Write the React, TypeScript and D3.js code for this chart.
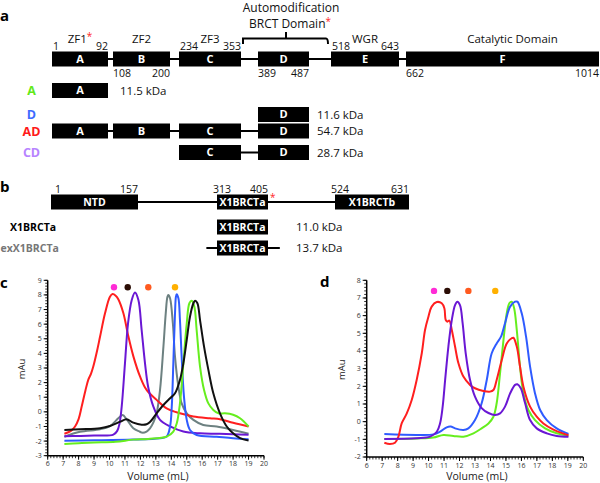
import React from 'react';
import * as d3 from 'd3';

// ---------------- DATA ----------------
// Panel a: PARP1 domains
const domainLetters = ['A', 'B', 'C', 'D', 'E', 'F'];
const domainStarts = [1, 108, 234, 389, 518, 662];
const domainEnds = [92, 200, 353, 487, 643, 1014];
const regionNames = ['ZF1', 'ZF2', 'ZF3', '', 'WGR', 'Catalytic Domain'];
const regionStarred = [true, false, false, false, false, false];
const constructNames = ['A', 'D', 'AD', 'CD'];
const constructDomains = [['A'], ['D'], ['A', 'B', 'C', 'D'], ['C', 'D']];
const constructMasses = ['11.5 kDa', '11.6 kDa', '54.7 kDa', '28.7 kDa'];

// Panel b: XRCC1 domains
const xDomainNames = ['NTD', 'X1BRCTa', 'X1BRCTb'];
const xDomainStarts = [1, 313, 524];
const xDomainEnds = [157, 405, 631];
const xConstructNames = ['X1BRCTa', 'exX1BRCTa'];
const xConstructCore = [[313, 405], [313, 405]];
const xConstructSpan = [[313, 405], [292, 426]];
const xConstructMasses = ['11.0 kDa', '13.7 kDa'];

// Panel c chromatograms (Volume mL, mAu)
const cGray: [number, number][] = [[7.08,-1.7],[8.09,-1.36],[9.39,-1.19],[10.03,-0.97],[10.57,-0.44],[10.85,-0.21],[11.1,-0.5],[11.54,-1.12],[11.97,-1.36],[12.1,-1.42],[12.4,-1.35],[12.62,-1.13],[12.85,-0.7],[13.05,-0.1],[13.27,1.5],[13.49,4.46],[13.64,6.74],[13.75,7.88],[13.81,8.0],[13.92,7.77],[14.1,6.06],[14.24,3.78],[14.46,1.72],[14.67,0.58],[15.0,-0.1],[15.43,-0.55],[16.07,-0.9],[16.94,-1.0],[18.0,-1.24],[19.0,-1.5]];
const cRed: [number, number][] = [[7.08,-1.5],[7.5,-1.3],[7.77,-1.0],[8.0,-0.5],[8.2,0.36],[8.45,1.5],[8.63,2.2],[8.8,2.6],[8.95,3.1],[9.2,4.2],[9.39,5.15],[9.71,6.74],[10.03,7.88],[10.2,8.06],[10.4,7.95],[10.57,7.7],[10.9,6.74],[11.2,5.26],[11.55,3.78],[11.98,2.41],[12.4,1.5],[13.05,0.82],[13.7,0.24],[14.56,-0.1],[15.43,-0.32],[16.5,-0.44],[17.15,-0.5],[18.0,-0.75],[19.0,-1.0]];
const cPurple: [number, number][] = [[7.08,-1.67],[8,-1.65],[9,-1.62],[10.25,-1.56],[10.5,-1.3],[10.65,-0.8],[10.79,0.36],[11.0,3.3],[11.2,6.05],[11.44,7.65],[11.65,8.16],[11.87,7.65],[12.08,5.6],[12.3,3.3],[12.5,1.72],[12.84,0.36],[13.27,-0.55],[13.92,-1.0],[14.78,-1.35],[15.86,-1.47],[16.94,-1.5],[18.0,-1.53],[19.0,-1.57]];
const cBlue: [number, number][] = [[7.08,-1.97],[9,-1.95],[11.54,-1.9],[13.27,-1.8],[13.7,-1.69],[13.92,-1.0],[14.03,0.36],[14.13,3.3],[14.24,6.74],[14.3,7.88],[14.35,8.04],[14.46,7.77],[14.56,6.28],[14.67,3.78],[14.82,1.04],[15.0,-0.55],[15.21,-1.24],[15.64,-1.58],[16.94,-1.7],[18.0,-1.8],[19.0,-1.87]];
const cGreen: [number, number][] = [[7.08,-2.2],[8,-2.15],[9,-2.1],[10.4,-2.05],[11.54,-1.9],[12.5,-1.85],[13.7,-1.7],[14.13,-1.35],[14.35,-0.8],[14.56,0.58],[14.78,3.3],[15.0,6.06],[15.17,7.43],[15.32,7.6],[15.49,7.2],[15.64,5.6],[15.86,3.1],[16.12,1.5],[16.4,0.58],[16.72,0.13],[17.05,-0.1],[17.48,-0.1],[18.0,-0.2],[18.45,-0.44],[19.0,-1.0]];
const cBlack: [number, number][] = [[7.08,-1.24],[8.09,-1.19],[9.39,-1.12],[10.03,-0.97],[10.7,-0.67],[11.1,-0.5],[11.54,-0.74],[12.08,-0.88],[12.4,-0.85],[12.62,-0.7],[13.05,-0.1],[13.49,0.47],[13.92,0.93],[14.24,1.27],[14.56,2.18],[14.78,3.32],[15.0,4.92],[15.21,6.51],[15.43,7.43],[15.54,7.6],[15.69,7.43],[15.86,6.28],[16.12,4.46],[16.4,2.87],[16.72,1.27],[17.15,-0.1],[17.59,-1.0],[18.0,-1.47],[18.45,-1.8],[19.0,-1.96]];
const cMarkerVolumes = [10.29, 11.18, 12.51, 14.24];
const cMarkerLevel = 8.52;

// Panel d chromatograms
const dGreen: [number, number][] = [[7.14,-0.98],[9.23,-0.95],[10.3,-0.9],[10.96,-0.75],[11.6,-0.81],[12.25,-0.85],[12.9,-0.66],[13.43,-0.38],[13.87,-0.1],[14.19,0.28],[14.4,1.04],[14.62,2.74],[14.84,4.62],[15.05,6.13],[15.22,6.7],[15.37,6.79],[15.53,6.42],[15.7,5.19],[15.91,3.11],[16.13,1.6],[16.45,0.66],[16.88,0.09],[17.53,-0.38],[18.28,-0.66],[19.04,-0.8]];
const dBlue: [number, number][] = [[7.14,-0.7],[9.23,-0.75],[10.31,-0.72],[10.74,-0.57],[11.17,-0.32],[11.43,-0.28],[11.71,-0.38],[12.25,-0.47],[12.57,-0.38],[13.0,0.09],[13.43,1.04],[13.76,2.36],[14.08,3.87],[14.4,4.43],[14.68,4.81],[14.94,5.57],[15.27,6.51],[15.59,6.79],[15.74,6.79],[16.02,6.13],[16.3,4.81],[16.56,3.11],[16.88,1.6],[17.21,0.66],[17.64,0.09],[18.28,-0.38],[19.04,-0.7]];
const dRed: [number, number][] = [[7.14,-1.19],[7.5,-1.26],[7.83,-1.19],[8.05,-0.85],[8.26,-0.1],[8.59,0.47],[8.91,1.23],[9.23,2.36],[9.56,3.87],[9.77,5.19],[9.99,5.94],[10.2,6.51],[10.53,6.77],[10.85,6.7],[11.02,6.42],[11.11,5.75],[11.22,5.66],[11.34,5.72],[11.5,5.19],[11.71,4.25],[11.93,3.3],[12.25,2.55],[12.68,2.08],[13.0,1.89],[13.54,1.74],[13.97,1.7],[14.19,1.79],[14.4,2.36],[14.73,3.49],[15.05,4.43],[15.37,4.72],[15.48,4.75],[15.7,4.25],[15.91,3.11],[16.13,1.98],[16.56,0.85],[16.99,0.28],[17.42,-0.1],[18.07,-0.45],[18.72,-0.68],[19.04,-0.77]];
const dPurple: [number, number][] = [[7.14,-0.98],[9.23,-0.94],[10.1,-0.85],[10.53,-0.57],[10.74,-0.1],[10.91,0.85],[11.07,2.36],[11.28,4.25],[11.5,5.75],[11.71,6.6],[11.86,6.79],[12.03,6.6],[12.2,5.57],[12.4,3.87],[12.68,2.36],[13.0,1.42],[13.43,0.77],[13.87,0.49],[14.3,0.38],[14.62,0.47],[14.94,0.85],[15.27,1.6],[15.59,2.08],[15.74,2.12],[15.96,1.89],[16.24,1.04],[16.56,0.09],[16.99,-0.38],[17.64,-0.66],[18.28,-0.81],[19.04,-0.85]];
const dMarkerVolumes = [10.35, 11.21, 12.57, 14.31];
const dMarkerLevel = 7.4;

const volumeDomain = [6, 20];
const cMauDomain = [-3, 9];
const dMauDomain = [-2, 8];

// ---------------- STYLE ----------------
const FONT = "'Open Sans', 'DejaVu Sans', sans-serif";
const RED = '#ff1f1f';
const PURPLE = '#6a17d4';
const GRAY = '#6d8181';
const BLUE = '#2f5bff';
const GREEN = '#66ee1e';
const BLACK = '#111111';
const constructColors = ['#62e81a', '#3d6bff', '#ff1a1a', '#b784ff'];
const xConstructColors = ['#000000', '#777777'];
const markerColors = ['#ff2bd6', '#2b0d05', '#ff5a1f', '#ffb000'];
const cColors = [GRAY, RED, PURPLE, BLUE, GREEN, BLACK];
const dColors = [GREEN, BLUE, RED, PURPLE];

// layout scales (residue -> x)
const aScale = d3.scaleLinear()
  .domain(d3.sort(domainStarts.concat(domainEnds)))
  .range([52, 108, 113, 170, 179, 241, 258, 309, 331, 399, 406, 599]);
const bScale = d3.scaleLinear()
  .domain(d3.sort(xDomainStarts.concat(xDomainEnds)))
  .range([51, 138, 217, 268, 335, 409]);

const BOX_H = 15;
const aMainY = 59;
const aRowY = [90.5, 114.5, 131, 152.5];
const bMainY = 202;
const bRowY = [227, 248];

function Box({ x0, x1, cy, label, fs = 11 }: any) {
  return (
    <g>
      <rect x={x0} y={cy - BOX_H / 2} width={x1 - x0} height={BOX_H} fill="#000" />
      <text x={(x0 + x1) / 2} y={cy} dy="0.36em" textAnchor="middle" fill="#fff"
        fontWeight="bold" fontSize={fs} fontFamily={FONT}>{label}</text>
    </g>
  );
}

function PanelA() {
  const idx = (l: string) => domainLetters.indexOf(l);
  const above = [true, false, true, false, true, false];
  return (
    <g>
      <text x={0} y={21} fontSize={15} fontWeight="bold" fontFamily={FONT}>a</text>
      <line x1={aScale(domainStarts[0])} x2={aScale(domainEnds[domainEnds.length - 1])} y1={aMainY} y2={aMainY} stroke="#000" strokeWidth={2} />
      {domainLetters.map((l, i) => (
        <Box key={l} x0={aScale(domainStarts[i])} x1={aScale(domainEnds[i])} cy={aMainY} label={l} />
      ))}
      {domainLetters.map((l, i) => {
        const up = above[i];
        const y = up ? aMainY - BOX_H / 2 - 1.5 : aMainY + BOX_H / 2 + 10;
        return (
          <g key={'n' + l} fontSize={10.5} fontFamily={FONT} fill="#111">
            <text x={aScale(domainStarts[i]) + (up ? 1 : 0)} y={y} textAnchor="start">{domainStarts[i]}</text>
            <text x={aScale(domainEnds[i])} y={y} textAnchor="end">{domainEnds[i]}</text>
          </g>
        );
      })}
      {regionNames.map((r, i) => r ? (
        <text key={'r' + i} x={(aScale(domainStarts[i]) + aScale(domainEnds[i])) / 2 + (i === 5 ? 10 : 0)} y={43}
          textAnchor="middle" fontSize={11.5} fontFamily={FONT} fill="#111">
          {r}{regionStarred[i] ? <tspan fill={RED} dy={-3} fontSize={10}>*</tspan> : null}
        </text>
      ) : null)}
      <path d={`M${aScale(353) + 2},44 L${aScale(353) + 2},38.5 L${aScale(518) - 5},38.5 Q${aScale(518) - 3},38.5 ${aScale(518) - 3},44 M${(aScale(353) + aScale(518)) / 2},38.5 L${(aScale(353) + aScale(518)) / 2},32`}
        fill="none" stroke="#000" strokeWidth={2} />
      <text x={291} y={11.5} textAnchor="middle" fontSize={12} fontFamily={FONT} fill="#111">Automodification</text>
      <text x={290} y={28} textAnchor="middle" fontSize={12} fontFamily={FONT} fill="#111">BRCT Domain<tspan fill={RED} dy={-3} fontSize={10}>*</tspan></text>
      {constructNames.map((name, r) => {
        const doms = constructDomains[r].map(idx);
        const cy = aRowY[r];
        const first = doms[0], last = doms[doms.length - 1];
        return (
          <g key={name}>
            <text x={31.5} y={cy} dy="0.36em" textAnchor="middle" fontWeight="bold" fontSize={12.5} fontFamily={FONT} fill={constructColors[r]}>{name}</text>
            {doms.length > 1 && <line x1={aScale(domainStarts[first])} x2={aScale(domainEnds[last])} y1={cy} y2={cy} stroke="#000" strokeWidth={2} />}
            {doms.map(d => (
              <Box key={d} x0={aScale(domainStarts[d])} x1={aScale(domainEnds[d])} cy={cy} label={domainLetters[d]} />
            ))}
            <text x={doms.length === 1 && domainLetters[first] === 'A' ? 120 : 317} y={cy} dy="0.36em" fontSize={11.5} fontFamily={FONT} fill="#111">{constructMasses[r]}</text>
          </g>
        );
      })}
    </g>
  );
}

function PanelB() {
  return (
    <g>
      <text x={0} y={191.5} fontSize={15} fontWeight="bold" fontFamily={FONT}>b</text>
      <line x1={bScale(xDomainStarts[0])} x2={bScale(xDomainEnds[2])} y1={bMainY} y2={bMainY} stroke="#000" strokeWidth={2} />
      {xDomainNames.map((n, i) => (
        <Box key={n} x0={bScale(xDomainStarts[i])} x1={bScale(xDomainEnds[i])} cy={bMainY} label={n} fs={10.5} />
      ))}
      {xDomainNames.map((n, i) => (
        <g key={'n' + n} fontSize={10.5} fontFamily={FONT} fill="#111">
          <text x={bScale(xDomainStarts[i]) + (i === 0 ? 4 : -4)} y={bMainY - BOX_H / 2 - 1.5} textAnchor="start">{xDomainStarts[i]}</text>
          <text x={bScale(xDomainEnds[i])} y={bMainY - BOX_H / 2 - 1.5} textAnchor="end">{xDomainEnds[i]}</text>
        </g>
      ))}
      <text x={bScale(405) + 2} y={bMainY - 1} fontSize={10} fill={RED} fontFamily={FONT}>*</text>
      {xConstructNames.map((name, r) => {
        const cy = bRowY[r];
        const [s0, s1] = xConstructSpan[r];
        const [c0, c1] = xConstructCore[r];
        return (
          <g key={name}>
            <text x={r === 0 ? 10 : 0.5} y={cy} dy="0.36em" fontWeight="bold" fontSize={10.5} fontFamily={FONT} fill={xConstructColors[r]}>{name}</text>
            {(s0 !== c0 || s1 !== c1) && <line x1={bScale(s0)} x2={bScale(s1)} y1={cy} y2={cy} stroke="#000" strokeWidth={2} />}
            <Box x0={bScale(c0)} x1={bScale(c1)} cy={cy} label="X1BRCTa" fs={10.5} />
            <text x={296} y={cy} dy="0.36em" fontSize={11.5} fontFamily={FONT} fill="#111">{xConstructMasses[r]}</text>
          </g>
        );
      })}
    </g>
  );
}

function Chromatogram({ series, colors, xRange, yDomain, yRange, markers, markerLevel, letter, letterPos, yTitleX }: any) {
  const x = d3.scaleLinear().domain(volumeDomain).range(xRange);
  const y = d3.scaleLinear().domain(yDomain).range(yRange);
  const line = d3.line<[number, number]>().x(d => x(d[0])).y(d => y(d[1])).curve(d3.curveCatmullRom.alpha(0.5));
  const xMajor = d3.range(volumeDomain[0], volumeDomain[1] + 0.001, 1);
  const xMinor = d3.range(volumeDomain[0], volumeDomain[1] + 0.001, 0.2);
  const yMajor = d3.range(yDomain[0], yDomain[1] + 0.001, 1);
  const yMinor = d3.range(yDomain[0], yDomain[1] + 0.001, 0.2);
  const x0 = xRange[0], y0 = yRange[0];
  return (
    <g fontFamily={FONT}>
      <text x={letterPos[0]} y={letterPos[1]} fontSize={15} fontWeight="bold">{letter}</text>
      {series.map((s: [number, number][], i: number) => (
        <path key={i} d={line(s) || ''} fill="none" stroke={colors[i]} strokeWidth={2} strokeLinejoin="round" />
      ))}
      {markers.map((v: number, i: number) => (
        <circle key={'m' + i} cx={x(v)} cy={y(markerLevel)} r={3.2} fill={markerColors[i]} />
      ))}
      <line x1={x0} x2={x0} y1={yRange[1]} y2={y0} stroke="#000" strokeWidth={1.5} />
      <line x1={x0} x2={xRange[1]} y1={y0} y2={y0} stroke="#000" strokeWidth={1.5} />
      {yMinor.map((v, i) => <line key={'ym' + i} x1={x0 - 2.5} x2={x0} y1={y(v)} y2={y(v)} stroke="#000" strokeWidth={0.8} />)}
      {xMinor.map((v, i) => <line key={'xm' + i} x1={x(v)} x2={x(v)} y1={y0} y2={y0 + 2.5} stroke="#000" strokeWidth={0.8} />)}
      {yMajor.map((v, i) => (
        <g key={'yM' + i}>
          <line x1={x0 - 4} x2={x0} y1={y(v)} y2={y(v)} stroke="#000" strokeWidth={1} />
          <text x={x0 - 6} y={y(v)} dy="0.35em" textAnchor="end" fontSize={7} fill="#333">{v}</text>
        </g>
      ))}
      {xMajor.map((v, i) => (
        <g key={'xM' + i}>
          <line x1={x(v)} x2={x(v)} y1={y0} y2={y0 + 4} stroke="#000" strokeWidth={1} />
          <text x={x(v)} y={y0 + 10.5} textAnchor="middle" fontSize={7} fill="#333">{v}</text>
        </g>
      ))}
      <text x={(xRange[0] + xRange[1]) / 2 + 2} y={479.5} textAnchor="middle" fontSize={10.5} fill="#222">Volume (mL)</text>
      <text transform={`translate(${yTitleX},${(yRange[0] + yRange[1]) / 2 + 1}) rotate(-90)`} textAnchor="middle" fontSize={9.5} fill="#222">mAu</text>
    </g>
  );
}

export default function App() {
  return (
    <div style={{ position: 'absolute', left: 0, top: 0, width: 600, height: 483, background: '#fff' }}>
      <svg width={600} height={483} viewBox="0 0 600 483" style={{ display: 'block' }}>
        <rect width={600} height={483} fill="#fff" />
        <PanelA />
        <PanelB />
        <Chromatogram series={[cGray, cRed, cPurple, cBlue, cGreen, cBlack]} colors={cColors}
          xRange={[47.7, 264]} yDomain={cMauDomain} yRange={[455.7, 280.3]}
          markers={cMarkerVolumes} markerLevel={cMarkerLevel} letter="c" letterPos={[0, 287.5]} yTitleX={24.5} />
        <Chromatogram series={[dGreen, dBlue, dRed, dPurple]} colors={dColors}
          xRange={[366.7, 583.3]} yDomain={dMauDomain} yRange={[457, 280.3]}
          markers={dMarkerVolumes} markerLevel={dMarkerLevel} letter="d" letterPos={[320, 286.5]} yTitleX={345} />
      </svg>
    </div>
  );
}
